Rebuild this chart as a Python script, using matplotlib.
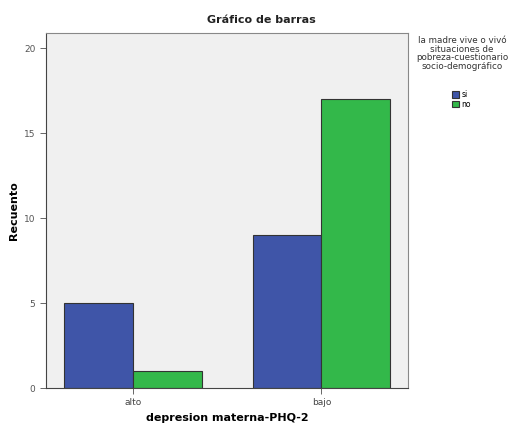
import numpy as np
import matplotlib.pyplot as plt

categories = ['alto', 'bajo']
series = ['si', 'no']
values_si = [5, 9]
values_no = [1, 17]
yticks = [0, 5, 10, 15, 20]

colors = ['#3F55A8', '#33B84A']

fig = plt.figure(figsize=(5.22, 4.25), dpi=100)
ax = fig.add_axes([0.088, 0.087, 0.694, 0.835])
ax.set_facecolor('#F0F0F0')

x = np.arange(len(categories))
w = 0.365
ax.bar(x - w / 2, values_si, w, color=colors[0], edgecolor='#333333', linewidth=0.8, label=series[0])
ax.bar(x + w / 2, values_no, w, color=colors[1], edgecolor='#333333', linewidth=0.8, label=series[1])

ax.set_xlim(-0.46, 1.46)
ax.set_ylim(0, 20.9)
ax.set_xticks(x)
ax.set_xticklabels(categories, fontsize=6.5, color='#444444')
ax.set_yticks(yticks)
ax.set_yticklabels([str(t) for t in yticks], fontsize=6.5, color='#555555')
ax.tick_params(length=4, width=0.7, color='#666666')
for s in ax.spines.values():
    s.set_color('#888888')
    s.set_linewidth(0.8)
ax.spines['left'].set_color('#444444')
ax.spines['bottom'].set_color('#444444')

ax.set_ylabel('Recuento', fontsize=8, fontweight='bold')
ax.yaxis.set_label_coords(-0.088, 0.5)
ax.set_xlabel('depresion materna-PHQ-2', fontsize=8, fontweight='bold')
ax.xaxis.set_label_coords(0.5, -0.085)
ax.xaxis.label.set_va('center')
ax.yaxis.label.set_va('center')
fig.text(0.5, 0.953, 'Gráfico de barras', ha='center', va='center', fontsize=8, fontweight='bold', color='#222222')

fig.text(0.885, 0.915, 'la madre vive o vivó\nsituaciones de\npobreza-cuestionario\nsocio-demográfico',
         ha='center', va='top', fontsize=6.3, color='#333333', linespacing=0.95)
leg = fig.legend(loc='upper left', bbox_to_anchor=(0.858, 0.797), frameon=False,
                 fontsize=5.5, handlelength=1.0, handleheight=0.9, handletextpad=0.3,
                 labelspacing=0.1, borderpad=0)

fig.savefig('out.png', dpi=100)
